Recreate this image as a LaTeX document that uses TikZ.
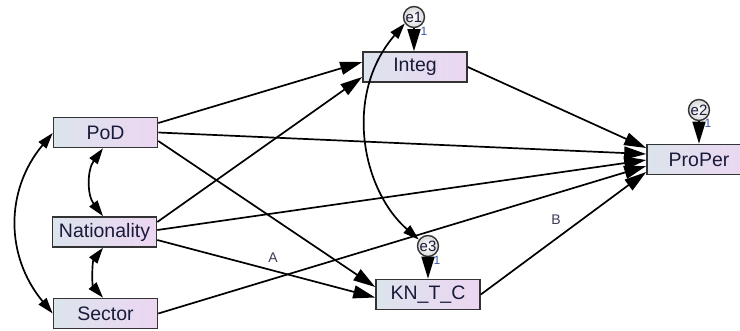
\documentclass[tikz,border=0pt]{standalone}
\usepackage{fontspec}
\setmainfont{Liberation Sans}
\usetikzlibrary{arrows.meta}
\definecolor{boxL}{HTML}{DCE4EC}
\definecolor{boxR}{HTML}{ECD6F2}
\definecolor{edge}{HTML}{333333}
\definecolor{txt}{HTML}{1A1A3A}
\definecolor{fix}{HTML}{3A55A8}

\begin{document}
\begin{tikzpicture}[x=1pt,y=-1pt,
  obs/.style={draw=edge, line width=1.6pt, left color=boxL, right color=boxR,
    minimum width=104pt, minimum height=30pt, inner sep=0pt,
    font=\fontsize{19.5}{22}\selectfont, text=txt},
  err/.style={circle, draw=edge, line width=1.4pt, inner color=white, outer color=gray!30,
    minimum size=21pt, inner sep=0pt, font=\fontsize{15}{16}\selectfont, text=txt},
  regr/.style={line width=1.7pt, -{Triangle[length=22pt,width=13pt]}},
  cov/.style={line width=1.7pt, {Triangle[length=16pt,width=10pt]}-{Triangle[length=16pt,width=10pt]}},
  lbl/.style={font=\fontsize{14}{16}\selectfont, text=txt!85},
  one/.style={font=\fontsize{12}{12}\selectfont, text=fix, inner sep=0pt}
]
\fill[white] (0,0) rectangle (740,330);
\useasboundingbox (0,0) rectangle (740,330);

% observed variables
\node[obs] (PoD)   at (105.5,132.5) {PoD};
\node[obs] (Nat)   at (104.5,232)   {Nationality};
\node[obs] (Sec)   at (105.5,313.5) {Sector};
\node[obs] (Integ) at (415,67)      {Integ};
\node[obs] (KN)    at (428,294.5)   {KN\_T\_C};
\node[obs] (Pro)   at (699,159.5)   {ProPer};

% error terms
\node[err] (e1) at (414,17)  {e1};
\node[err] (e2) at (699,110) {e2};
\node[err] (e3) at (428,246) {e3};
\node[one] (f1) at (424,31)  {1};
\node[one] (f2) at (708,123) {1};
\node[one] (f3) at (437,260) {1};

% regression paths
\draw[regr] ([yshift=9.5pt]PoD.east) -- ([yshift=5pt]Integ.west);
\draw[regr] ([yshift=10pt]Nat.east) -- ([yshift=-10pt]Integ.west);
\draw[regr] (PoD.east) -- ([yshift=5.5pt]Pro.west);
\draw[regr] ([yshift=-8.5pt]PoD.east) -- ([yshift=7.5pt]KN.west);
\draw[regr] ([yshift=2pt]Nat.east) -- ([yshift=-0.5pt]Pro.west);
\draw[regr] ([yshift=-8pt]Nat.east) -- ([yshift=-3pt]KN.west);
\draw[regr] (Sec.east) -- ([yshift=-6.5pt]Pro.west);
\draw[regr] (Integ.east) -- ([yshift=11.5pt]Pro.west);
\draw[regr] (KN.east) -- ([yshift=-12.5pt]Pro.west);

% error paths
\draw[regr] (e1.south) -- (e1.south |- Integ.north);
\draw[regr] (e2.south) -- (e2.south |- Pro.north);
\draw[regr] (e3.south) -- (e3.south |- KN.north);

% covariances
\draw[cov] ([yshift=-0.5pt]PoD.west) .. controls (5,190) and (5,256) .. (Sec.west);
\draw[cov] ([xshift=-2.5pt]PoD.south) .. controls (87,170) and (87,195) .. ([xshift=-1.5pt]Nat.north);
\draw[cov] ([xshift=-1.5pt]Nat.south) .. controls (92,262) and (92,285) .. ([xshift=-2.5pt]Sec.north);
\draw[cov] (e1.215) .. controls (343,95) and (362,190) .. (e3.145);

% path labels
\node[lbl] (A) at (273,258) {A};
\node[lbl] (B) at (556,220) {B};
\end{tikzpicture}
\end{document}
